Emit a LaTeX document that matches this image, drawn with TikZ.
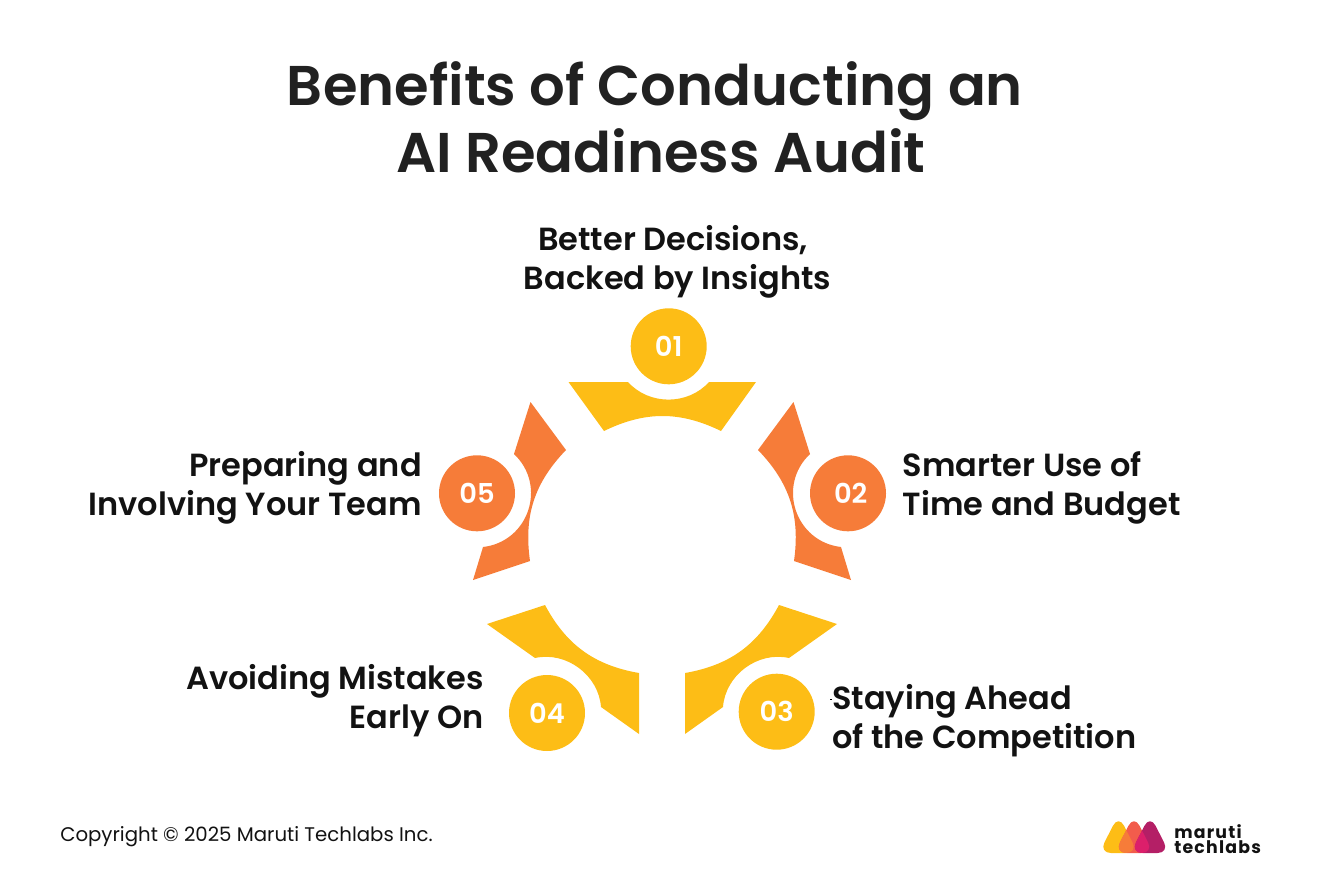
\documentclass[tikz,border=0pt]{standalone}
\usepackage{fontspec}
\setmainfont{Poppins}
\newfontfamily\semifont{Poppins SemiBold}
\newfontfamily\brandfont{Poppins Bold}[LetterSpace=7]
\usepackage{tikz}
\definecolor{amber}{HTML}{FDBD16}
\definecolor{tang}{HTML}{F67C39}
\definecolor{salmon}{HTML}{F25C4C}
\definecolor{berry}{HTML}{B41F66}
\definecolor{rose}{HTML}{DC1F6B}
\tikzstyle{petal}=[draw=none]
\tikzstyle{numdot}=[circle,minimum size=57pt,inner sep=0pt,text=white,font=\semifont\fontsize{20.5}{24}\selectfont]
\tikzstyle{heading}=[anchor=base,inner sep=0pt,text=black!87,font=\semifont\fontsize{42}{50}\selectfont]
\tikzstyle{label}=[inner sep=0pt,text=black!93,font=\semifont\fontsize{24}{29.2}\selectfont]
\begin{document}
\begin{tikzpicture}[x=0.75pt,y=-0.75pt]
\useasboundingbox (0,0) rectangle (1321,871);

% Title
\node[heading] (title1) at (655,105) {Benefits of Conducting an};
\node[heading] (title2) at (661,172) {AI Readiness Audit};

% Petals
\fill[petal,amber] (568.5,382) -- (628,382) to[bend right=48] (709,382) -- (756,382) -- (721,431) to[bend right=26] (604,431) -- cycle;
\fill[petal,tang] (793.5,402) -- (810,454) to[bend right=65,looseness=1.2] (841,547) -- (851,580) -- (794,561) to[bend right=26] (758,450) -- cycle;
\fill[petal,amber] (779,605) -- (837,624) -- (789,658) to[bend right=49] (723,707) -- (685,734) -- (685,673) to[bend right=26] cycle;
\fill[petal,amber] (545,605) to[bend right=26] (639,673) -- (639,734) -- (601,707) to[bend right=49] (535,658) -- (487,624) -- cycle;
\fill[petal,tang] (530.5,402) -- (566,450) to[bend right=26] (530,561) -- (473,580) -- (483,547) to[bend right=65,looseness=1.2] (514,454) -- cycle;

% Number circles
\foreach \pos/\name/\col/\num in {{(668.7,346.3)/c1/amber/01},{(848,493.3)/c2/tang/\hspace{4pt}02},{(776.7,711.7)/c3/amber/03},{(547,713)/c4/amber/04},{(477,493.3)/c5/tang/05}}
  \node[numdot,fill=\col] (\name) at \pos {\num};

% Labels
\node[label,anchor=base] (t1a) at (673,250) {Better Decisions,};
\node[label,anchor=base] (t1b) at (677.5,289) {Backed by Insights};
\node[label,align=left,anchor=west] (t2) at (902.5,488) {Smarter Use of\\Time and Budget};
\node[label,align=left,anchor=west] (t3) at (832,720.7) {Staying Ahead\\of the Competition};
\node[label,align=right,anchor=east] (t4) at (484,701) {Avoiding Mistakes\\Early On};
\node[label,align=right,anchor=east] (t5) at (422,488) {Preparing and\\Involving Your Team};
\fill[black] (829.5,699) rectangle (831.5,700);

% Footer
\node[anchor=west,inner sep=0pt,text=black!93,font=\fontsize{14.8}{18}\selectfont] (copy) at (60,837) {Copyright © 2025 Maruti Techlabs Inc.};

% Logo
\def\tria{(1118.5,815) -- (1138,853) -- (1099,853) -- cycle}
\def\trib{(1134,815) -- (1153.5,853) -- (1114.5,853) -- cycle}
\def\tric{(1150,815) -- (1169.5,853) -- (1130.5,853) -- cycle}
\fill[amber,rounded corners=9pt] \tria;
\fill[salmon,rounded corners=9pt] \trib;
\fill[berry,rounded corners=9pt] \tric;
\begin{scope}
  \clip[rounded corners=9pt] \tria;
  \fill[tang,rounded corners=9pt] \trib;
\end{scope}
\begin{scope}
  \clip[rounded corners=9pt] \trib;
  \fill[rose,rounded corners=9pt] \tric;
\end{scope}
\node[anchor=west,inner sep=0pt,text=black!93,align=left,font=\brandfont\fontsize{13}{11.5}\selectfont] (brand) at (1174,839) {maruti\\techlabs};

\end{tikzpicture}
\end{document}
